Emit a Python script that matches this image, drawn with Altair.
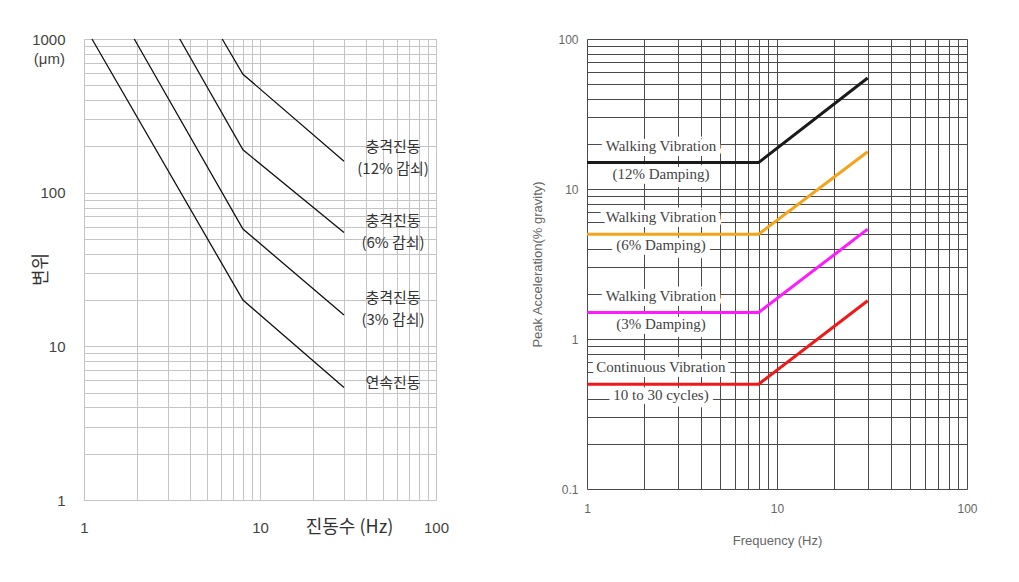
import altair as alt
import pandas as pd

# ---------------- left panel: displacement (um) vs frequency ----------------
cont_freq = [1.11, 8, 30]
cont_disp = [1000, 20, 5.4]
imp3_freq = [1.93, 8, 30]
imp3_disp = [1000, 58, 16]
imp6_freq = [3.5, 8, 30]
imp6_disp = [1000, 190, 55]
imp12_freq = [6.1, 8, 30]
imp12_disp = [1000, 590, 160]

disp_label_text = ["연속진동", "충격진동\n(3% 감쇠)", "충격진동\n(6% 감쇠)", "충격진동\n(12% 감쇠)"]
disp_label_freq = [57, 57, 57, 57]
disp_label_val = [5.8, 20.6, 65.5, 199]

unit_text = ["(μm)"]
unit_val = [1000]

# ---------------- right panel: peak acceleration vs frequency ----------------
acc_freq = [1, 8, 30]
walk12_acc = [15, 15, 55]
walk6_acc = [5, 5, 17.7]
walk3_acc = [1.5, 1.5, 5.4]
cont_acc = [0.5, 0.5, 1.8]
acc_names = ["walk12", "walk6", "walk3", "cont"]
acc_colors = ["#1a1a1a", "#f5a31a", "#ff1aff", "#f01818"]

acc_label_text = [
    "Walking Vibration\n(12% Damping)",
    "Walking Vibration\n(6% Damping)",
    "Walking Vibration\n(3% Damping)",
    "Continuous Vibration\n10 to 30 cycles)",
]
acc_label_freq = [2.45, 2.45, 2.45, 2.45]
acc_label_val = [15, 5, 1.5, 0.5]

# grid values / tick labels
freq_grid = [1, 2, 3, 4, 5, 6, 7, 8, 9, 10, 20, 30, 40, 50, 60, 70, 80, 90, 100]
disp_grid = [1, 2, 3, 4, 5, 6, 7, 8, 9, 10, 20, 30, 40, 50, 60, 70, 80, 90,
             100, 200, 300, 400, 500, 600, 700, 800, 900, 1000]
acc_grid = [0.1, 0.2, 0.3, 0.4, 0.5, 0.6, 0.7, 0.8, 0.9, 1, 2, 3, 4, 5, 6, 7, 8, 9,
            10, 20, 30, 40, 50, 60, 70, 80, 90, 100]
freq_major = [1, 10, 100]
disp_major = [1, 10, 100, 1000]
acc_major = [0.1, 1, 10, 100]


def major_expr(vals):
    return "indexof([" + ",".join(str(v) for v in vals) + "], datum.value) >= 0 ? '' + datum.value : ''"


# ---- build left data
rows = []
for name, fs, vs in [("cont", cont_freq, cont_disp), ("imp3", imp3_freq, imp3_disp),
                     ("imp6", imp6_freq, imp6_disp), ("imp12", imp12_freq, imp12_disp)]:
    for i, (f, v) in enumerate(zip(fs, vs)):
        rows.append({"s": name, "i": i, "f": f, "v": v})
df_left = pd.DataFrame(rows)
df_left_lab = pd.DataFrame({"t": disp_label_text, "f": disp_label_freq, "v": disp_label_val})
df_unit = pd.DataFrame({"t": unit_text, "v": unit_val})

W_L, H_L = 352, 461
xl = alt.X("f:Q",
           scale=alt.Scale(type="log", domain=[1, 100], nice=False),
           axis=alt.Axis(values=freq_grid, labelExpr=major_expr(freq_major), grid=True,
                         gridColor="#c4c4c4", gridWidth=1, ticks=False, domain=False,
                         labelFont="Liberation Sans", labelFontSize=15, labelColor="#444",
                         labelPadding=27, labelBaseline="middle", labelFlush=False,
                         labelOverlap=False,
                         title="진동수 (Hz)", titleFont="Noto Sans CJK KR", titleFontSize=18,
                         titleFontWeight="normal", titleColor="#333",
                         titleX=265, titleY=27, titleAlign="center", titleBaseline="middle"))
yl = alt.Y("v:Q",
           scale=alt.Scale(type="log", domain=[1, 1000], nice=False),
           axis=alt.Axis(values=disp_grid, labelExpr=major_expr(disp_major), grid=True,
                         gridColor="#c4c4c4", gridWidth=1, ticks=False, domain=False,
                         labelFont="Liberation Sans", labelFontSize=15, labelColor="#444",
                         labelPadding=19, labelFlush=False, labelOverlap=False,
                         title="변위", titleFont="Noto Sans CJK KR", titleFontSize=18,
                         titleFontWeight="normal", titleColor="#333",
                         titleX=-43, titleY=230, titleAngle=270, titleAlign="center",
                         titleBaseline="middle"))

left_lines = alt.Chart(df_left).mark_line(color="#111", strokeWidth=1.3).encode(
    x=xl, y=yl, detail="s:N", order="i:Q")
left_labels = alt.Chart(df_left_lab).mark_text(
    font="Noto Sans CJK KR", fontSize=15, lineBreak="\n", lineHeight=22,
    align="center", baseline="middle", color="#333").encode(
    x=xl, y=yl, text="t:N")
left_unit = alt.Chart(df_unit).mark_text(
    font="Liberation Sans", fontSize=15, align="right", baseline="middle",
    color="#444", dy=20).encode(x=alt.value(-19), y=yl, text="t:N")

left = alt.layer(left_lines, left_labels, left_unit).properties(width=W_L, height=H_L)

# ---- build right data
rows = []
for name, vs in zip(acc_names, [walk12_acc, walk6_acc, walk3_acc, cont_acc]):
    for i, (f, v) in enumerate(zip(acc_freq, vs)):
        rows.append({"s": name, "i": i, "f": f, "v": v})
df_right = pd.DataFrame(rows)
df_right_lab = pd.DataFrame({"t": acc_label_text, "f": acc_label_freq, "v": acc_label_val})

W_R, H_R = 380, 450
xr = alt.X("f:Q",
           scale=alt.Scale(type="log", domain=[1, 100], nice=False),
           axis=alt.Axis(values=freq_grid, labelExpr=major_expr(freq_major), grid=True,
                         gridColor="#4a4a4a", gridWidth=1, ticks=False, domain=False,
                         labelFont="Liberation Sans", labelFontSize=12, labelColor="#666",
                         labelPadding=19, labelBaseline="middle", labelFlush=False,
                         labelOverlap=False,
                         title="Frequency (Hz)", titleFont="Liberation Sans", titleFontSize=13,
                         titleFontWeight="normal", titleColor="#666",
                         titleX=190, titleY=51, titleAlign="center", titleBaseline="middle"))
yr = alt.Y("v:Q",
           scale=alt.Scale(type="log", domain=[0.1, 100], nice=False),
           axis=alt.Axis(values=acc_grid, labelExpr=major_expr(acc_major), grid=True,
                         gridColor="#4a4a4a", gridWidth=1, ticks=False, domain=False,
                         labelFont="Liberation Sans", labelFontSize=12, labelColor="#666",
                         labelPadding=9, labelFlush=False, labelOverlap=False,
                         title="Peak Acceleration(% gravity)", titleFont="Liberation Sans",
                         titleFontSize=13, titleFontWeight="normal", titleColor="#666",
                         titleX=-50, titleY=225, titleAngle=270, titleAlign="center",
                         titleBaseline="middle"))

right_halo = alt.Chart(df_right_lab).mark_text(
    font="Liberation Serif", fontSize=15, lineBreak="\n", lineHeight=28,
    align="center", baseline="middle", dy=-17, fill="white", stroke="white",
    strokeWidth=10, strokeJoin="round").encode(x=xr, y=yr, text="t:N")
right_text = alt.Chart(df_right_lab).mark_text(
    font="Liberation Serif", fontSize=15, lineBreak="\n", lineHeight=28,
    align="center", baseline="middle", dy=-17, color="#444").encode(
    x=xr, y=yr, text="t:N")
right_lines = alt.Chart(df_right).mark_line(strokeWidth=3).encode(
    x=xr, y=yr, order="i:Q",
    color=alt.Color("s:N", scale=alt.Scale(domain=acc_names, range=acc_colors), legend=None))

right = alt.layer(right_halo, right_text, right_lines).properties(width=W_R, height=H_R)

chart = alt.hconcat(left, right, spacing=151, bounds="flush").properties(
    padding={"left": 23, "top": 23, "right": 5, "bottom": 5}
).configure_view(stroke="#222", strokeWidth=1.3).configure(background="white")

chart.save("out.html", embed_options={"renderer": "svg", "actions": False})
